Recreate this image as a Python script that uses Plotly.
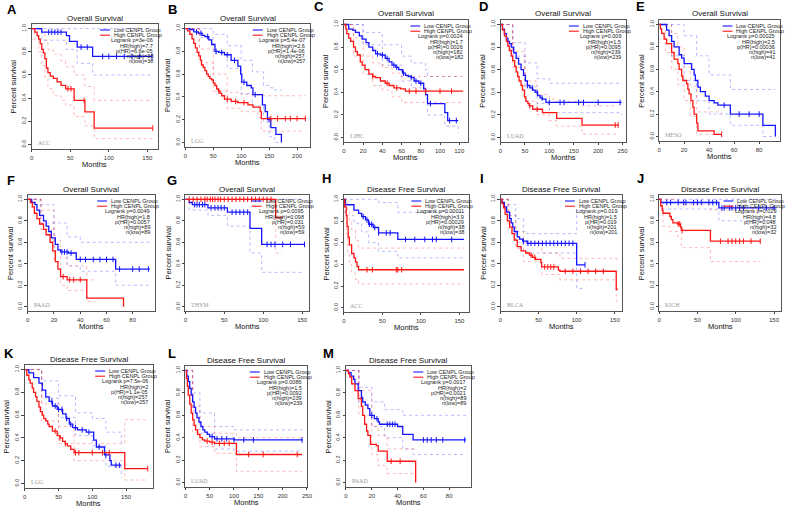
import numpy as np
import plotly.graph_objects as go

W, H = 789, 508

# ---------- A: ACC overall survival ----------
A_low_t = [0, 13, 45, 49, 59, 79, 156]
A_low_s = [1, .97, .94, .89, .84, .76, .76]
A_high_t = [0, 4, 7, 9, 11, 13, 15, 17, 19, 21, 24, 28, 33, 38, 44, 55, 69, 81, 157]
A_high_s = [1, .97, .94, .91, .87, .82, .79, .74, .66, .62, .59, .57, .54, .51, .48, .38, .28, .14, .14]
A_low_ci_t = [0, 13, 45, 59, 79, 156]
A_low_up = [1, 1, 1, 1, 1, 1]
A_low_lo = [1, .9, .82, .7, .6, .6]
A_high_ci_t = [0, 4, 9, 13, 17, 21, 28, 38, 44, 55, 69, 81, 157]
A_high_up = [1, 1, 1, .96, .9, .82, .78, .72, .67, .6, .5, .38, .38]
A_high_lo = [1, .9, .8, .68, .58, .48, .42, .38, .34, .24, .16, .05, .05]
A_low_cens = [22, 26, 30, 34, 38, 64, 72, 92, 100, 110, 120, 130, 140, 156]
A_high_cens = [47, 51, 68, 157]
A_stats = ['Logrank p=3e-06', 'HR(high)=7.7', 'p(HR)=6.6e-05', 'n(high)=38', 'n(low)=38']

# ---------- B: LGG overall survival ----------
B_low_t = [0, 8, 15, 23, 30, 35, 42, 47, 53, 60, 70, 82, 94, 99, 101, 110, 118, 121, 138, 143, 147, 153, 162, 172]
B_low_s = [1, .99, .97, .96, .94, .93, .9, .86, .8, .79, .77, .72, .67, .6, .53, .5, .48, .42, .33, .27, .2, .13, .07, 0]
B_high_t = [0, 4, 8, 12, 15, 18, 21, 24, 27, 29, 32, 35, 38, 41, 44, 47, 50, 53, 56, 59, 62, 65, 70, 82, 94, 112, 121, 134, 136, 215]
B_high_s = [1, .98, .95, .91, .87, .83, .79, .76, .72, .68, .66, .63, .6, .58, .56, .55, .52, .5, .47, .45, .43, .41, .38, .36, .35, .33, .31, .27, .21, .21]
B_low_ci_t = [0, 25, 50, 75, 100, 120, 140, 150, 160, 172]
B_low_up = [1, 1, .95, .85, .72, .62, .5, .48, .46, .46]
B_low_lo = [1, .92, .78, .65, .43, .32, .18, .05, 0, 0]
B_high_ci_t = [0, 25, 50, 75, 100, 130, 136, 215]
B_high_up = [1, .82, .6, .44, .42, .41, .41, .41]
B_high_lo = [1, .7, .45, .3, .27, .22, .1, .1]
B_low_cens = [20, 28, 40, 55, 65, 75, 88, 105, 125, 150]
B_high_cens = [60, 75, 90, 105, 153, 165, 179, 188, 200, 215]
B_stats = ['Logrank p=5.4e-07', 'HR(high)=2.6', 'p(HR)=1.4e-06', 'n(high)=257', 'n(low)=257']

# ---------- C: LIHC overall survival ----------
C_low_t = [0, 5, 9, 12, 16, 19, 23, 26, 30, 33, 38, 43, 47, 50, 54, 57, 61, 64, 67, 70, 73, 78, 83, 85, 87, 105, 108, 119]
C_low_s = [1, .96, .95, .93, .9, .87, .84, .8, .77, .74, .73, .7, .67, .64, .62, .6, .57, .55, .54, .53, .5, .48, .43, .38, .3, .22, .15, .15]
C_high_t = [0, 2, 3, 5, 7, 10, 12, 14, 17, 19, 22, 26, 30, 33, 38, 43, 47, 52, 59, 64, 124]
C_high_s = [1, .96, .92, .88, .85, .8, .76, .73, .67, .64, .6, .56, .54, .53, .5, .48, .46, .44, .43, .41, .41]
C_low_ci_t = [0, 20, 40, 60, 70, 85, 87, 105, 119]
C_low_up = [1, .93, .82, .72, .66, .6, .54, .54, .54]
C_low_lo = [1, .82, .64, .5, .44, .35, .2, .1, .04]
C_high_ci_t = [0, 10, 20, 30, 40, 50, 60, 124]
C_high_up = [1, .88, .72, .66, .62, .57, .54, .54]
C_high_lo = [1, .72, .56, .46, .42, .36, .31, .31]
C_low_cens = [35, 40, 45, 52, 55, 62, 70, 75, 80, 90, 110, 117]
C_high_cens = [30, 45, 55, 68, 75, 85, 100, 112]
C_stats = ['Logrank p=0.0024', 'HR(high)=1.7', 'p(HR)=0.0026', 'n(high)=182', 'n(low)=182']

# ---------- D: LUAD overall survival ----------
D_low_t = [0, 4, 8, 12, 15, 18, 22, 27, 32, 37, 42, 47, 51, 55, 60, 66, 71, 76, 81, 86, 93, 248]
D_low_s = [1, .96, .92, .88, .85, .83, .8, .75, .7, .65, .6, .55, .5, .46, .44, .42, .4, .37, .35, .34, .31, .31]
D_high_t = [0, 4, 8, 12, 15, 18, 22, 25, 29, 32, 35, 38, 42, 45, 49, 52, 56, 59, 66, 86, 115, 167, 241]
D_high_s = [1, .95, .9, .85, .81, .77, .72, .68, .63, .58, .54, .5, .46, .42, .36, .32, .3, .28, .25, .22, .17, .11, .11]
D_low_ci_t = [0, 25, 50, 75, 100, 248]
D_low_up = [1, .84, .66, .52, .48, .47]
D_low_lo = [1, .72, .45, .3, .22, .2]
D_high_ci_t = [0, 25, 50, 75, 100, 115, 167, 241]
D_high_up = [1, .76, .5, .38, .34, .32, .28, .28]
D_high_lo = [1, .62, .32, .2, .15, .1, .03, .03]
D_low_cens = [55, 65, 75, 85, 100, 122, 130, 160, 170, 200, 245]
D_high_cens = [60, 75, 235, 241]
D_stats = ['Logrank p=0.009', 'HR(high)=1.5', 'p(HR)=0.0095', 'n(high)=239', 'n(low)=239']

# ---------- E: MESO overall survival ----------
E_low_t = [0, 6, 8, 10, 12, 16, 18, 20, 26, 28, 29, 31, 33, 37, 40, 44, 47, 57, 83, 93]
E_low_s = [1, .95, .9, .85, .8, .73, .7, .65, .6, .55, .5, .44, .4, .36, .32, .3, .28, .2, .1, 0]
E_high_t = [0, 1, 2, 4, 6, 10, 12, 15, 16, 18, 19, 22, 23, 24, 25.5, 27, 28, 30, 31, 44, 50]
E_high_s = [1, .96, .92, .87, .83, .75, .69, .65, .6, .54, .5, .47, .42, .38, .32, .26, .2, .12, .05, .02, .02]
E_low_ci_t = [0, 10, 20, 30, 40, 57, 83, 93]
E_low_up = [1, 1, .9, .72, .55, .42, .42, .42]
E_low_lo = [1, .72, .5, .32, .2, .1, 0, 0]
E_high_ci_t = [0, 5, 10, 15, 20, 25, 30, 50]
E_high_up = [1, 1, .92, .8, .62, .45, .22, .2]
E_high_lo = [1, .75, .6, .46, .32, .18, .02, 0]
E_low_cens = [52, 64, 72, 80]
E_high_cens = [50]
E_stats = ['Logrank p=0.00025', 'HR(high)=2.5', 'p(HR)=0.00036', 'n(high)=41', 'n(low)=41']

# ---------- F: PAAD overall survival ----------
F_low_t = [0, 3, 5.5, 7, 9, 12, 14, 16, 18, 21, 23, 25, 31, 37, 67, 93]
F_low_s = [1, .97, .95, .9, .85, .8, .75, .7, .64, .58, .53, .51, .5, .44, .35, .35]
F_high_t = [0, 2, 3.5, 5, 7, 9, 12, 14, 17, 19, 21, 23, 25, 30, 45, 73]
F_high_s = [1, .97, .93, .87, .82, .77, .72, .67, .6, .52, .42, .35, .28, .25, .08, 0]
F_low_ci_t = [0, 10, 20, 30, 40, 67, 93]
F_low_up = [1, .95, .78, .65, .6, .6, .6]
F_low_lo = [1, .78, .52, .38, .33, .2, .2]
F_high_ci_t = [0, 10, 20, 25, 30, 45, 51]
F_high_up = [1, .9, .62, .45, .38, .25, .25]
F_high_lo = [1, .72, .42, .2, .15, .05, .05]
F_low_cens = [26, 28, 30, 33, 40, 44, 50, 55, 60, 65, 70, 80, 85, 92]
F_high_cens = [27, 32, 35, 40]
F_stats = ['Logrank p=0.0049', 'HR(high)=1.8', 'p(HR)=0.0057', 'n(high)=89', 'n(low)=89']

# ---------- G: THYM overall survival ----------
G_low_t = [0, 5, 9, 29, 54, 83, 98, 153]
G_low_s = [1, .97, .95, .92, .88, .73, .58, .58]
G_high_t = [0, 116, 125]
G_high_s = [1, .83, .83]
G_low_ci_t = [0, 5, 29, 54, 83, 98, 153]
G_low_up = [1, 1, 1, 1, 1, 1, 1]
G_low_lo = [1, .9, .85, .75, .5, .32, .32]
G_high_ci_t = [0, 116, 125]
G_high_up = [1, 1, 1]
G_high_lo = [1, .5, .5]
G_low_cens = [12, 15, 18, 22, 25, 33, 38, 42, 46, 50, 60, 65, 70, 75, 80, 105, 110, 115, 125, 135, 153]
G_high_cens = [5, 10, 15, 20, 25, 28, 32, 35, 38, 42, 45, 50, 55, 60, 65, 70, 75, 80, 85, 90, 95, 100, 105, 110]
G_stats = ['Logrank p=0.0095', 'HR(high)=0.098', 'p(HR)=0.031', 'n(high)=59', 'n(low)=59']

# ---------- H: ACC disease free survival ----------
H_low_t = [0, 2, 13, 19, 23, 28, 32, 38, 45, 70, 156]
H_low_s = [1, .95, .9, .87, .84, .81, .77, .74, .69, .63, .63]
H_high_t = [0, 1, 3, 4, 5.5, 7, 10, 13, 15, 17, 19, 156]
H_high_s = [1, .93, .85, .75, .65, .58, .5, .46, .42, .38, .35, .35]
H_low_ci_t = [0, 2, 13, 23, 32, 45, 70, 156]
H_low_up = [1, 1, 1, 1, 1, .97, .88, .88]
H_low_lo = [1, .85, .78, .7, .6, .52, .46, .46]
H_high_ci_t = [0, 1, 3, 5, 7, 10, 15, 19, 156]
H_high_up = [1, 1, .98, .88, .8, .72, .62, .55, .55]
H_high_lo = [1, .8, .68, .5, .4, .32, .26, .22, .22]
H_low_cens = [25, 30, 33, 36, 40, 45, 55, 60, 80, 92, 105, 115, 120, 140]
H_high_cens = [30, 37, 68, 70, 75]
H_stats = ['Logrank p=0.00011', 'HR(high)=3.9', 'p(HR)=0.00029', 'n(high)=38', 'n(low)=38']

# ---------- I: BLCA disease free survival ----------
I_low_t = [0, 2, 5, 8, 12, 14, 16, 18, 22, 25, 29, 35, 100, 111]
I_low_s = [1, .97, .93, .88, .82, .78, .74, .7, .65, .63, .61, .59, .39, .39]
I_high_t = [0, 2, 4, 6, 9, 12, 15, 18, 22, 27, 33, 38, 42, 46, 53, 54, 76, 78, 152, 154]
I_high_s = [1, .96, .92, .86, .8, .74, .68, .62, .56, .52, .5, .48, .46, .44, .41, .37, .34, .33, .16, .16]
I_low_ci_t = [0, 10, 20, 30, 35, 100, 111]
I_low_up = [1, .95, .82, .7, .68, .9, .9]
I_low_lo = [1, .85, .6, .52, .5, .17, .17]
I_high_ci_t = [0, 10, 20, 30, 54, 78, 152, 154]
I_high_up = [1, .85, .7, .6, .5, .45, .44, .44]
I_high_lo = [1, .72, .54, .42, .3, .25, .05, .05]
I_low_cens = [30, 36, 40, 45, 50, 55, 60, 65, 70, 75, 80, 85, 90, 95, 111]
I_high_cens = [40, 45, 58, 62, 66, 70, 85, 95, 105, 115, 125, 135]
I_stats = ['Logrank p=0.019', 'HR(high)=1.5', 'p(HR)=0.019', 'n(high)=201', 'n(low)=201']

# ---------- J: KICH disease free survival ----------
J_low_t = [0, 2, 78, 153]
J_low_s = [1, .97, .92, .92]
J_high_t = [0, 2, 4, 5, 14, 16, 18, 24, 28, 29, 67, 132]
J_high_s = [1, .94, .9, .87, .84, .81, .78, .77, .74, .71, .61, .61]
J_low_ci_t = [0, 2, 78, 153]
J_low_up = [1, 1, 1, 1]
J_low_lo = [1, .91, .8, .8]
J_high_ci_t = [0, 5, 14, 24, 29, 67, 132]
J_high_up = [1, 1, 1, .98, .95, .9, .9]
J_high_lo = [1, .75, .7, .65, .55, .42, .42]
J_low_cens = [10, 15, 25, 32, 35, 45, 50, 55, 65, 70, 75, 82, 85, 92, 95, 100, 105, 110, 130, 140, 150]
J_high_cens = [25, 27, 30, 80, 90, 95, 100, 105, 110, 120, 132]
J_stats = ['Logrank p=0.029', 'HR(high)=4.8', 'p(HR)=0.048', 'n(high)=32', 'n(low)=32']

# ---------- K: LGG disease free survival ----------
K_low_t = [0, 6, 13, 21, 26, 31, 36, 41, 48, 56, 61, 66, 71, 78, 91, 102, 106, 118, 126, 128, 143]
K_low_s = [1, .97, .93, .88, .82, .76, .72, .68, .65, .61, .57, .52, .49, .47, .45, .38, .32, .25, .2, .16, .16]
K_high_t = [0, 3, 6, 8, 11, 13, 16, 18, 21, 23, 26, 28, 31, 34, 36, 41, 48, 52, 56, 60, 63, 68, 73, 148, 182]
K_high_s = [1, .95, .91, .88, .84, .8, .76, .72, .67, .63, .6, .57, .55, .52, .5, .46, .42, .4, .37, .35, .33, .3, .27, .13, .13]
K_low_ci_t = [0, 25, 50, 75, 100, 120, 143]
K_low_up = [1, .9, .77, .62, .57, .45, .35]
K_low_lo = [1, .75, .58, .42, .33, .15, .05]
K_high_ci_t = [0, 25, 50, 73, 148, 182]
K_high_up = [1, .7, .5, .35, .56, .56]
K_high_lo = [1, .55, .35, .2, .03, .03]
K_low_cens = [40, 45, 50, 55, 62, 68, 75, 85, 95, 110, 120, 135, 140]
K_high_cens = [45, 52, 60, 75, 80, 100, 115, 125, 182]
K_stats = ['Logrank p=7.5e-06', 'HR(high)=2', 'p(HR)=1.1e-05', 'n(high)=257', 'n(low)=257']

# ---------- L: LUAD disease free survival ----------
L_low_t = [0, 3, 6, 9, 12, 15, 18, 21, 24, 28, 32, 36, 40, 45, 50, 60, 100, 241]
L_low_s = [1, .95, .9, .84, .78, .72, .67, .62, .58, .54, .5, .47, .45, .43, .41, .39, .38, .38]
L_high_t = [0, 2, 4, 6, 9, 12, 15, 18, 21, 25, 30, 35, 40, 50, 60, 105, 240]
L_high_s = [1, .93, .86, .78, .7, .62, .56, .51, .47, .43, .4, .38, .37, .36, .35, .25, .25]
L_low_ci_t = [0, 15, 30, 60, 100, 241]
L_low_up = [1, .8, .62, .5, .47, .47]
L_low_lo = [1, .64, .44, .3, .28, .28]
L_high_ci_t = [0, 15, 30, 60, 105, 240]
L_high_up = [1, .68, .5, .44, .4, .4]
L_high_lo = [1, .45, .32, .26, .1, .1]
L_low_cens = [55, 65, 75, 85, 100, 120, 140, 240]
L_high_cens = [45, 55, 70, 80, 90, 130, 160, 230]
L_stats = ['Logrank p=0.0086', 'HR(high)=1.5', 'p(HR)=0.0092', 'n(high)=239', 'n(low)=239']

# ---------- M: PAAD disease free survival ----------
M_low_t = [0, 2, 4, 6, 7, 9.5, 12, 13, 15, 17, 18.5, 22, 25, 26, 40, 44, 52, 93]
M_low_s = [1, .98, .95, .92, .88, .82, .76, .72, .69, .66, .6, .57, .54, .52, .5, .43, .38, .38]
M_high_t = [0, 2, 3, 4.5, 7, 9.5, 12, 13, 14.5, 16, 17, 19, 23.5, 25, 32, 54]
M_high_s = [1, .97, .94, .88, .82, .75, .68, .6, .52, .46, .42, .34, .33, .28, .19, 0]
M_low_ci_t = [0, 10, 20, 30, 44, 52, 93]
M_low_up = [1, .85, .72, .65, .6, .6, .6]
M_low_lo = [1, .7, .5, .4, .3, .25, .25]
M_high_ci_t = [0, 10, 20, 25, 32, 54]
M_high_up = [1, .82, .5, .42, .3, .3]
M_high_lo = [1, .6, .25, .15, .08, .08]
M_low_cens = [20, 24, 32, 34, 36, 38, 60, 63, 66, 70, 75, 92]
M_high_cens = [35, 42]
M_stats = ['Logrank p=0.0017', 'HR(high)=2', 'p(HR)=0.0021', 'n(high)=89', 'n(low)=89']

OS = 'Overall Survival'
DFS = 'Disease Free Survival'

# panel layout: letter, title, cancer, box (left, right, top, bottom in px), x ticks, letter position
g = globals()
panel_cfg = [
    ('A', OS, 'ACC', (30, 157, 24, 149), [0, 50, 100, 150], (10, 10)),
    ('B', OS, 'LGG', (185, 311, 24, 147), [0, 50, 100, 150, 200], (172, 10)),
    ('C', OS, 'LIHC', (345, 470, 20, 142), [0, 20, 40, 60, 80, 100, 120], (320, 7)),
    ('D', OS, 'LUAD', (503, 630, 20, 142), [0, 50, 100, 150, 200, 250], (486, 7)),
    ('E', OS, 'MESO', (663, 785, 20, 141), [0, 20, 40, 60, 80], (644, 7)),
    ('F', OS, 'PAAD', (26, 154, 195, 311), [0, 20, 40, 60, 80], (9, 180)),
    ('G', OS, 'THYM', (185, 310, 195, 311), [0, 50, 100, 150], (172, 180)),
    ('H', DFS, 'ACC', (345, 471, 195, 312), [0, 50, 100, 150], (327, 178)),
    ('I', DFS, 'BLCA', (503, 626, 195, 311), [0, 50, 100, 150], (484, 178)),
    ('J', DFS, 'KICH', (663, 786, 195, 311), [0, 50, 100, 150], (644, 178)),
    ('K', DFS, 'LGG', (23, 152, 365, 488), [0, 50, 100, 150], (7, 353)),
    ('L', DFS, 'LUAD', (185, 308, 366, 487), [0, 50, 100, 150, 200, 250], (172, 353)),
    ('M', DFS, 'PAAD', (347, 473, 366, 487), [0, 20, 40, 60, 80], (329, 353)),
]

BLUE = 'rgb(20,20,255)'
RED = 'rgb(255,20,20)'
BLUE_CI = 'rgba(60,60,255,0.45)'
RED_CI = 'rgba(255,60,60,0.45)'
FONT = 'Liberation Sans, Arial, sans-serif'


def fx(px):
    return px / W


def fy(py):
    return 1 - py / H


def surv_at(t, s, tc):
    idx = np.searchsorted(np.array(t), np.array(tc), side='right') - 1
    return [s[i] for i in idx]


def note(text, x, y, size, xanchor='center', color='#222', **kw):
    return dict(text=text, x=fx(x), y=fy(y), xref='paper', yref='paper', showarrow=False,
                xanchor=xanchor, yanchor='middle', font=dict(size=size, color=color, **kw.pop('font', {})), **kw)


fig = go.Figure()
layout = dict(width=W, height=H, margin=dict(l=0, r=0, t=0, b=0),
              paper_bgcolor='white', plot_bgcolor='white', showlegend=False,
              font=dict(family=FONT, color='#222'))
annotations = []
shapes = []

for n, (key, title, cancer, box, xt, lpos) in enumerate(panel_cfg, start=1):
    xa = 'x' if n == 1 else f'x{n}'
    ya = 'y' if n == 1 else f'y{n}'
    left, right, top, bot = box
    low_t, low_s = g[f'{key}_low_t'], g[f'{key}_low_s']
    high_t, high_s = g[f'{key}_high_t'], g[f'{key}_high_s']
    xmax = max(low_t[-1], high_t[-1]) * 1.04

    for ci_key, col in (('low', BLUE_CI), ('high', RED_CI)):
        ct = g[f'{key}_{ci_key}_ci_t']
        for part in ('up', 'lo'):
            fig.add_trace(go.Scatter(x=ct, y=g[f'{key}_{ci_key}_{part}'], mode='lines',
                                     line=dict(color=col, width=0.8, dash='dot', shape='hv'),
                                     xaxis=xa, yaxis=ya, hoverinfo='skip'))
    for t, s, cens, col in ((low_t, low_s, g[f'{key}_low_cens'], BLUE),
                            (high_t, high_s, g[f'{key}_high_cens'], RED)):
        fig.add_trace(go.Scatter(x=t, y=s, mode='lines',
                                 line=dict(color=col, width=1.3, shape='hv'),
                                 xaxis=xa, yaxis=ya))
        fig.add_trace(go.Scatter(x=cens, y=surv_at(t, s, cens), mode='markers',
                                 marker=dict(symbol='line-ns-open', size=4, color=col,
                                             line=dict(color=col, width=1)),
                                 xaxis=xa, yaxis=ya))

    axkey = 'xaxis' if n == 1 else f'xaxis{n}'
    aykey = 'yaxis' if n == 1 else f'yaxis{n}'
    layout[axkey] = dict(domain=[fx(left), fx(right)], anchor=ya, range=[0, xmax],
                         tickvals=xt, ticks='outside', ticklen=2.5, tickwidth=0.6,
                         tickcolor='#444', showline=True, linecolor='#555', linewidth=0.7,
                         mirror=True, showgrid=False, zeroline=False,
                         tickfont=dict(size=6, color='#333'))
    layout[aykey] = dict(domain=[fy(bot), fy(top)], anchor=xa, range=[-0.04, 1.04],
                         tickvals=[0, 0.2, 0.4, 0.6, 0.8, 1.0],
                         ticktext=['0.0', '0.2', '0.4', '0.6', '0.8', '1.0'],
                         tickangle=-90, ticks='outside', ticklen=2.5, tickwidth=0.6,
                         tickcolor='#444', showline=True, linecolor='#555', linewidth=0.7,
                         mirror=True, showgrid=False, zeroline=False,
                         tickfont=dict(size=5.5, color='#333'))

    cx = (left + right) / 2
    annotations.append(note(title, cx, top - 6, 8, color='#111'))
    annotations.append(note('Months', cx, bot + 15, 7.5, color='#111'))
    annotations.append(note('Percent survival', left - 18, (top + bot) / 2, 7.5, color='#111',
                            textangle=-90))
    annotations.append(note(f'<b>{key}</b>', lpos[0], lpos[1], 13, color='black'))
    annotations.append(note(cancer, left + 4, bot - 6, 6, xanchor='left', color='#999',
                            font=dict(family='Liberation Serif, serif')))

    # legend inside the panel
    for i, (lab, col) in enumerate((('Low CENPL Group', BLUE), ('High CENPL Group', RED))):
        yy = top + 6 + i * 5.2
        shapes.append(dict(type='line', xref='paper', yref='paper',
                           x0=fx(right - 58), x1=fx(right - 48), y0=fy(yy), y1=fy(yy),
                           line=dict(color=col, width=1.1)))
        annotations.append(note(lab, right - 46, yy, 5.5, xanchor='left'))
    for i, st in enumerate(g[f'{key}_stats']):
        yy = top + 6 + (i + 2) * 5.2
        annotations.append(note(st, right - 3, yy, 5.5, xanchor='right'))

layout['annotations'] = annotations
layout['shapes'] = shapes
fig.update_layout(**layout)
fig.write_html('out.html', config={'displayModeBar': False},
               post_script="document.body.style.margin='0';")
